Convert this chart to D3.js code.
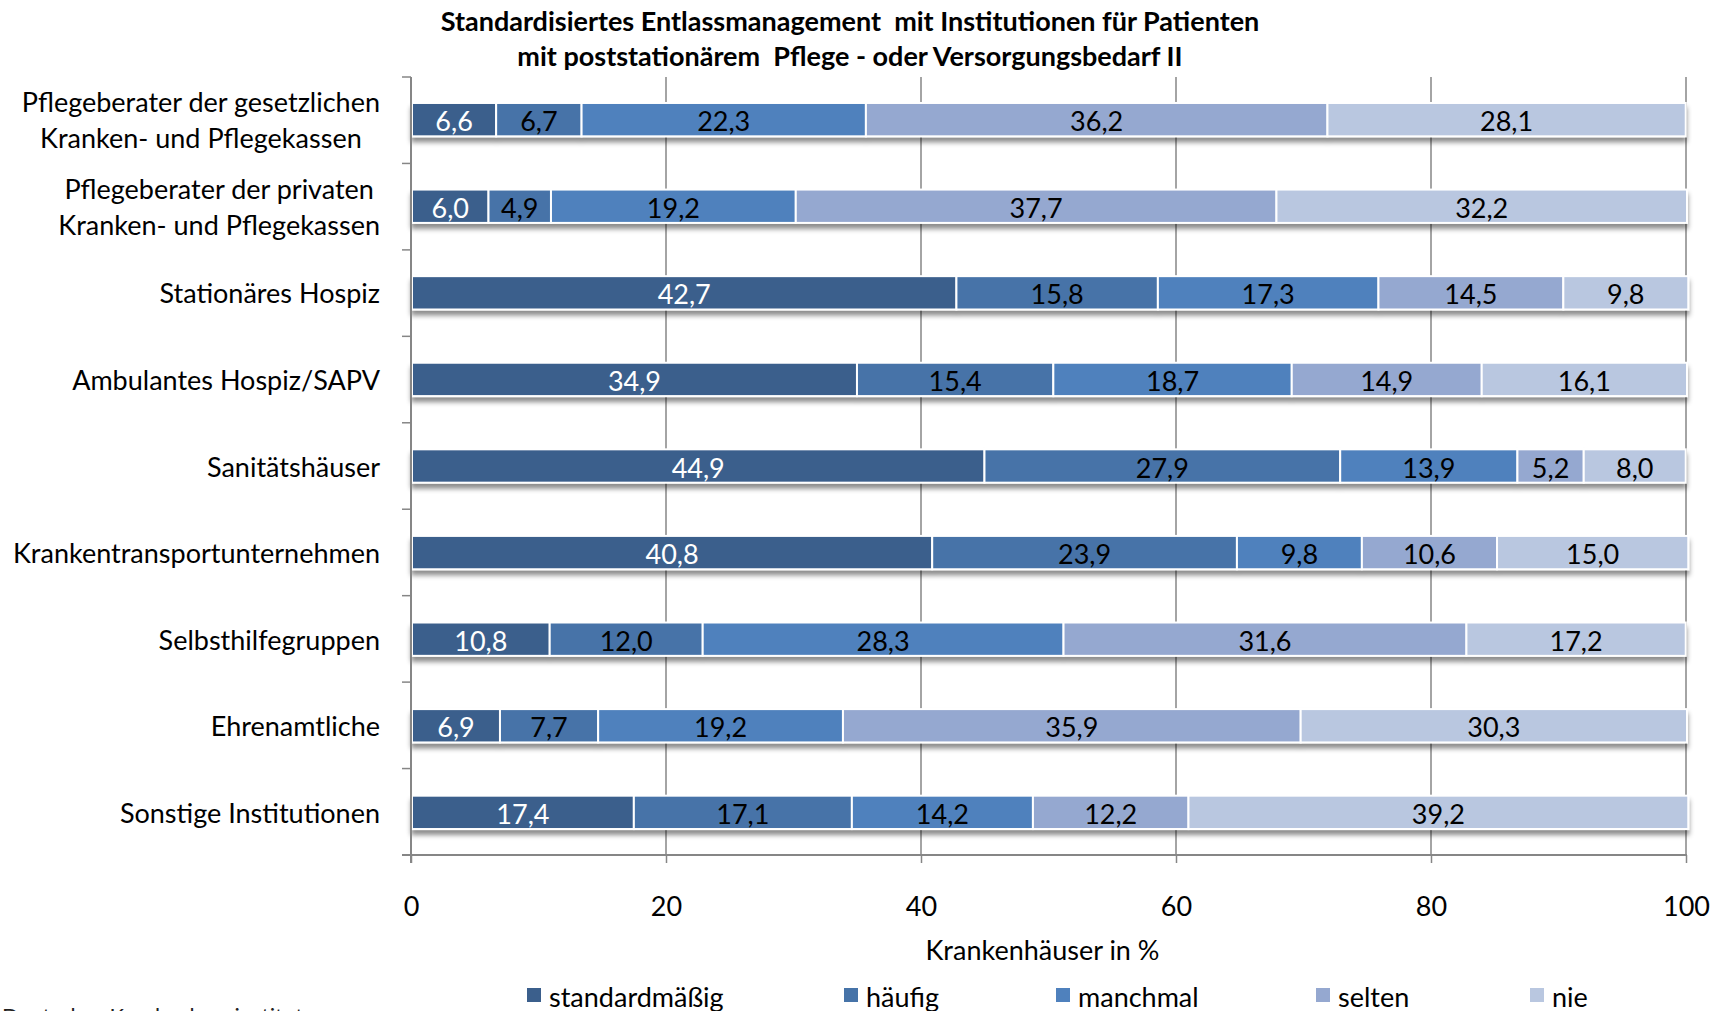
<!DOCTYPE html>
<html><head><meta charset="utf-8">
<script src="https://cdn.jsdelivr.net/npm/d3@7"></script>
<style>
html,body{margin:0;padding:0;background:#fff;overflow:hidden}
svg text{font-family:Lato,"Open Sans",sans-serif}
</style></head>
<body>
<svg id="c" width="1725" height="1011"></svg>
<script>
const titleLines = ["Standardisiertes Entlassmanagement  mit Institutionen für Patienten",
                    "mit poststationärem  Pflege - oder Versorgungsbedarf II"];
const categories = [
  ["Pflegeberater der gesetzlichen","Kranken- und Pflegekassen"],
  ["Pflegeberater der privaten","Kranken- und Pflegekassen"],
  ["Stationäres Hospiz"],
  ["Ambulantes Hospiz/SAPV"],
  ["Sanitätshäuser"],
  ["Krankentransportunternehmen"],
  ["Selbsthilfegruppen"],
  ["Ehrenamtliche"],
  ["Sonstige Institutionen"]
];
const seriesNames = ["standardmäßig","häufig","manchmal","selten","nie"];
const standardmaessig = [6.6, 6.0, 42.7, 34.9, 44.9, 40.8, 10.8, 6.9, 17.4];
const haeufig         = [6.7, 4.9, 15.8, 15.4, 27.9, 23.9, 12.0, 7.7, 17.1];
const manchmal        = [22.3, 19.2, 17.3, 18.7, 13.9, 9.8, 28.3, 19.2, 14.2];
const selten          = [36.2, 37.7, 14.5, 14.9, 5.2, 10.6, 31.6, 35.9, 12.2];
const nie             = [28.1, 32.2, 9.8, 16.1, 8.0, 15.0, 17.2, 30.3, 39.2];
const xTicks = [0, 20, 40, 60, 80, 100];
const xTitle = "Krankenhäuser in %";
const sourceText = "Deutsches Krankenhausinstitut";

const colors = ["#3B5F8C","#4673A8","#4F81BD","#95A8D0","#B9C7E0"];
const labelColors = ["#ffffff","#000000","#000000","#000000","#000000"];

const seriesVals = [standardmaessig, haeufig, manchmal, selten, nie];
const rows = categories.map((c,i)=>{
  const o = {key:i};
  seriesNames.forEach((s,j)=>o[s]=seriesVals[j][i]);
  return o;
});
const stack = d3.stack().keys(seriesNames)(rows);

const svg = d3.select("#c");
const defs = svg.append("defs");
const f = defs.append("filter").attr("id","sh").attr("x","-5%").attr("y","-30%").attr("width","110%").attr("height","180%");
f.append("feDropShadow").attr("dx",0).attr("dy",5).attr("stdDeviation",2.5).attr("flood-color","#000").attr("flood-opacity",0.45);

const pLeft = 411, pRight = 1686, pTop = 77, pBottom = 855;
const x = d3.scaleLinear().domain([0,100]).range([pLeft,pRight]);
const y = d3.scaleBand().domain(d3.range(categories.length)).range([pTop,pBottom]).paddingInner(0.615).paddingOuter(0.3);

const FS = 27;
const gridColor = "#868686";

// gridlines
svg.append("g").selectAll("line").data(xTicks.slice(1)).join("line")
  .attr("x1",d=>x(d)).attr("x2",d=>x(d)).attr("y1",pTop).attr("y2",pBottom)
  .attr("stroke",gridColor).attr("stroke-width",1.5);

// bars
const rowsG = svg.append("g").selectAll("g").data(d3.range(categories.length)).join("g")
  .attr("filter","url(#sh)");
rowsG.each(function(i){
  const g = d3.select(this);
  stack.forEach((s,j)=>{
    const d = s[i];
    g.append("rect").attr("x",x(d[0])+1).attr("width",x(d[1])-x(d[0]))
     .attr("y",y(i)).attr("height",y.bandwidth())
     .attr("fill",colors[j]).attr("stroke","#fff").attr("stroke-width",2);
  });
});
// value labels
stack.forEach((s,j)=>{
  svg.append("g").selectAll("text").data(s).join("text")
    .attr("x",d=>(x(d[0])+x(d[1]))/2+1).attr("y",(d,i)=>y(i)+y.bandwidth()/2+1)
    .attr("text-anchor","middle").attr("dominant-baseline","central")
    .attr("font-size",FS).attr("fill",labelColors[j])
    .text(d=>d3.format(".1f")(d[1]-d[0]).replace(".",","));
});

// x axis
const xAxis = d3.axisBottom(x).tickValues(xTicks).tickSize(8).tickPadding(34).tickFormat(d=>d);
const xg = svg.append("g").attr("transform",`translate(0,${pBottom})`).call(xAxis);
xg.select(".domain").remove();
xg.selectAll(".tick line").attr("stroke",gridColor).attr("stroke-width",1.5);
xg.selectAll(".tick text").attr("font-size",FS).attr("fill","#000").attr("font-family","Lato");
svg.append("line").attr("x1",pLeft-9).attr("x2",pRight+1).attr("y1",pBottom).attr("y2",pBottom)
  .attr("stroke",gridColor).attr("stroke-width",2);

// y axis
const yEdges = d3.range(categories.length+1).map(i=>pTop + i*(pBottom-pTop)/categories.length);
svg.append("line").attr("x1",pLeft).attr("x2",pLeft).attr("y1",pTop).attr("y2",pBottom+8)
  .attr("stroke",gridColor).attr("stroke-width",2);
svg.append("g").selectAll("line").data(yEdges.slice(0,-1)).join("line")
  .attr("x1",pLeft-9).attr("x2",pLeft).attr("y1",d=>d).attr("y2",d=>d)
  .attr("stroke",gridColor).attr("stroke-width",1.5);

// category labels
const labelRight = 380;
categories.forEach((lines,i)=>{
  const cy = y(i)+y.bandwidth()/2;
  const lh = 36;
  const g = svg.append("g");
  const ts = lines.map((t,k)=>g.append("text").attr("font-size",FS).attr("fill","#000")
     .attr("dominant-baseline","central")
     .attr("y",cy + (k-(lines.length-1)/2)*lh).text(t));
  const w = d3.max(ts,t=>t.node().getComputedTextLength());
  ts.forEach(t=>t.attr("text-anchor","middle").attr("x",labelRight - w/2));
});

// axis title
svg.append("text").attr("x",(pLeft+pRight)/2-6).attr("y",949).attr("text-anchor","middle")
  .attr("dominant-baseline","central").attr("font-size",FS).text(xTitle);

// title
titleLines.forEach((t,k)=>svg.append("text").attr("x",850).attr("y",20+k*35)
  .attr("text-anchor","middle").attr("dominant-baseline","central")
  .attr("font-size",27).attr("font-weight","bold").style("white-space","pre").text(t));

// legend
const legX = [527,844,1056,1316,1530];
const lg = svg.append("g").selectAll("g").data(seriesNames).join("g")
  .attr("transform",(d,i)=>`translate(${legX[i]},996)`);
lg.append("rect").attr("x",0).attr("y",-8).attr("width",14).attr("height",14).attr("fill",(d,i)=>colors[i]);
lg.append("text").attr("x",22).attr("y",0).attr("dominant-baseline","central").attr("font-size",FS).text(d=>d);

// source (cut off at bottom)
svg.append("text").attr("x",2).attr("y",1024).attr("font-size",22).attr("fill","#222").text(sourceText);
</script>
</body></html>
